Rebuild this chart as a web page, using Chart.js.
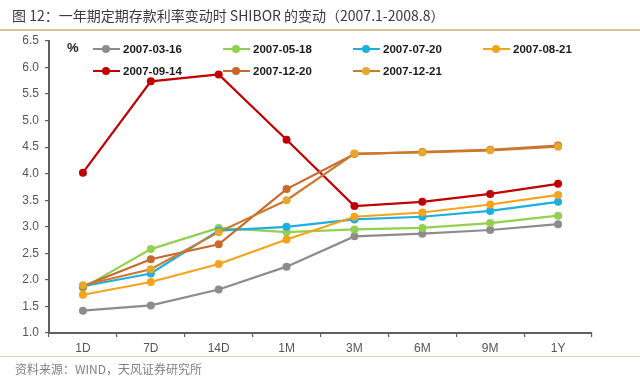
<!DOCTYPE html>
<html>
<head>
<meta charset="utf-8">
<script src="https://cdn.jsdelivr.net/npm/chart.js@4/dist/chart.umd.min.js"></script>
<style>
  html, body { margin:0; padding:0; background:#fff; }
  #wrap { position:relative; width:640px; height:377px; overflow:hidden; }
  #c { position:absolute; left:0; top:0; }
  #title { position:absolute; left:12px; top:5px; font:14px "Noto Sans CJK SC","Noto Sans",sans-serif; color:#3a3a3a; white-space:nowrap; line-height:20px; }
  #tline { position:absolute; left:0; top:29px; width:640px; height:2px; background:#D8C290; }
  #bline { position:absolute; left:0; top:356px; width:640px; height:1px; background:#E2D6B6; }
  #src { position:absolute; left:15px; top:360px; font:12px "Noto Sans CJK SC","Noto Sans",sans-serif; color:#808080; white-space:nowrap; line-height:17px; }
  #pct { position:absolute; left:67px; top:40px; font:bold 13px "Liberation Sans",Arial,sans-serif; color:#1a1a1a; }
  .li { position:absolute; height:16px; white-space:nowrap; font:bold 11.5px "Liberation Sans",Arial,sans-serif; color:#1a1a1a; }
  .li .ln { position:absolute; left:0; top:7px; width:27px; height:2px; }
  .li .mk { position:absolute; left:9px; top:4px; width:8px; height:8px; border-radius:50%; }
  .li .tx { position:absolute; left:30px; top:0px; line-height:16px; }
</style>
</head>
<body>
<div id="wrap">
  <canvas id="c" width="640" height="377"></canvas>
  <div id="title">图 12：一年期定期存款利率变动时 SHIBOR 的变动（2007.1-2008.8）</div>
  <div id="tline"></div>
  <div id="bline"></div>
  <div id="src">资料来源：WIND，天风证券研究所</div>
  <div id="pct">%</div>
  <div id="legend"></div>
</div>
<script>
const categories = ["1D","7D","14D","1M","3M","6M","9M","1Y"];
const yTicks = [1.0,1.5,2.0,2.5,3.0,3.5,4.0,4.5,5.0,5.5,6.0,6.5];

const seriesNames = ["2007-03-16","2007-05-18","2007-07-20","2007-08-21","2007-09-14","2007-12-20","2007-12-21"];
const s20070316 = [1.42,1.52,1.82,2.25,2.82,2.87,2.94,3.05];
const s20070518 = [1.85,2.58,2.98,2.90,2.95,2.98,3.07,3.21];
const s20070720 = [1.88,2.12,2.93,3.00,3.14,3.19,3.30,3.47];
const s20070821 = [1.72,1.96,2.30,2.76,3.19,3.27,3.42,3.60];
const s20070914 = [4.02,5.74,5.87,4.64,3.39,3.47,3.62,3.81];
const s20071220 = [1.88,2.39,2.67,3.71,4.37,4.41,4.45,4.53];
const s20071221 = [1.90,2.20,2.90,3.50,4.38,4.40,4.44,4.51];
const seriesValues = [s20070316,s20070518,s20070720,s20070821,s20070914,s20071220,s20071221];

const lineColors   = ["#8C8C8C","#92D050","#1FAEE0","#F5A31A","#C00000","#C8692B","#C97A2C"];
const markerColors = ["#8C8C8C","#92D050","#1FAEE0","#F5A31A","#C00000","#C8692B","#E6A82A"];

const datasets = seriesNames.map((n,i)=>({
  label:n,
  data:seriesValues[i],
  borderColor:lineColors[i],
  backgroundColor:markerColors[i],
  pointBackgroundColor:markerColors[i],
  pointBorderColor:markerColors[i],
  pointRadius:4,
  pointBorderWidth:0,
  borderWidth:2.2,
  tension:0,
  order:seriesNames.length-i
}));

// HTML legend
const legendPos = [[93,41],[223,41],[353,41],[483,41],[93,63],[223,63],[353,63]];
const lg = document.getElementById('legend');
seriesNames.forEach((n,i)=>{
  const d = document.createElement('div');
  d.className='li';
  d.style.left=legendPos[i][0]+'px';
  d.style.top=legendPos[i][1]+'px';
  d.innerHTML='<span class="ln" style="background:'+lineColors[i]+'"></span><span class="mk" style="background:'+markerColors[i]+'"></span><span class="tx">'+n+'</span>';
  lg.appendChild(d);
});

const axisColor = "#5f5f5f";
new Chart(document.getElementById('c'), {
  type:'line',
  data:{ labels:categories, datasets:datasets },
  options:{
    responsive:false,
    animation:false,
    layout:{ padding:{ top:41, right:48, bottom:0, left:0 } },
    plugins:{ legend:{ display:false }, tooltip:{ enabled:false } },
    scales:{
      x:{
        offset:true,
        afterFit:s=>{ s.height=44; },
        border:{ display:true, color:axisColor, width:2 },
        grid:{ offset:true, drawOnChartArea:false, drawTicks:true, tickLength:4, color:axisColor, lineWidth:1.2 },
        ticks:{ color:"#555555", font:{ family:"Liberation Sans", size:12 }, padding:4, maxRotation:0 }
      },
      y:{
        min:1, max:6.5,
        afterFit:s=>{ s.width=49; },
        afterBuildTicks:s=>{ s.ticks = yTicks.map(v=>({value:v})); },
        border:{ display:true, color:axisColor, width:2 },
        grid:{ drawOnChartArea:false, drawTicks:true, tickLength:4, color:axisColor, lineWidth:1.2 },
        ticks:{ color:"#555555", font:{ family:"Liberation Sans", size:12 }, padding:6, callback:v=>Number(v).toFixed(1) }
      }
    }
  }
});
</script>
</body>
</html>
